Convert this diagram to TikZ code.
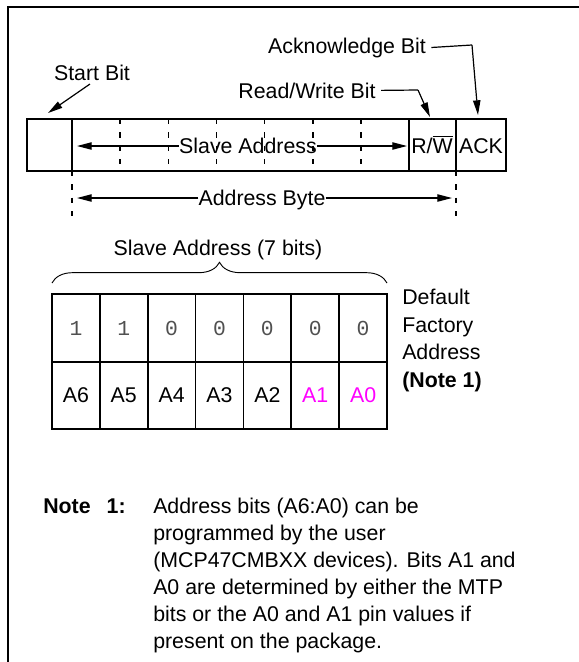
\documentclass[tikz,border=0pt]{standalone}
\usepackage{fontspec}
\setmainfont{Liberation Sans}
\newfontfamily\monof{Liberation Mono}
\usetikzlibrary{arrows.meta,decorations.pathreplacing}
\definecolor{mag}{RGB}{255,0,255}
\definecolor{digitgray}{RGB}{80,80,80}
\begin{document}
\begin{tikzpicture}[x=0.75pt,y=-0.75pt,
  txt/.style={inner sep=0pt,font=\fontsize{16}{19}\selectfont},
  boldtxt/.style={inner sep=0pt,font=\fontsize{16}{19}\selectfont\bfseries},
  digit/.style={inner sep=0pt,font=\fontsize{16}{19}\selectfont\monof,text=digitgray},
  boxline/.style={line width=1.1pt},
  tblline/.style={line width=1.3pt},
  dsh/.style={line width=1.1pt,dash pattern=on 4pt off 6pt},
  conn/.style={line width=0.9pt},
  arr/.style={line width=0.9pt,-{Triangle[length=11pt,width=5.5pt]}},
  frameline/.style={line width=1.4pt}]
\useasboundingbox (0,0) rectangle (579,662);
% frame
\draw[frameline] (8,662) -- (8,7) -- (579,7);
% register
\draw[boxline] (27,119) rectangle (506,171);
\draw[boxline] (72,119) -- (72,171);
\draw[boxline] (409,119) -- (409,171);
\draw[boxline] (456,119) -- (456,171);
\foreach \i in {1,...,6} \draw[dsh] ({72+\i*48.17},119) -- ({72+\i*48.17},171);
\coordinate (saL) at (77,146);
\coordinate (saR) at (407,146);
\node[txt,anchor=base] (sa) at (248,153) {Slave Address};
\draw[arr] (sa.west |- saL) -- (saL);
\draw[arr] (sa.east |- saR) -- (saR);
\node[txt,anchor=base] (rw) at (432,153) {R/$\overline{\hbox{W}}$};
\node[txt,anchor=base] (ack) at (481,153) {ACK};
% labels
\node[txt,anchor=base] (start) at (92,80) {Start Bit};
\coordinate (startT) at (48,113);
\draw[arr] (90,84) -- (startT);
\node[txt,anchor=base] (rwl) at (307,98) {Read/Write Bit};
\coordinate (rwK) at (418,90);
\coordinate (rwT) at (430,117);
\draw[conn] ([xshift=4pt]rwl.east) -- (rwK);
\draw[arr] (rwK) -- (rwT);
\node[txt,anchor=base] (ackl) at (347,53) {Acknowledge Bit};
\coordinate (ackK) at (472,45);
\coordinate (ackT) at (478,115);
\draw[conn] ([xshift=4pt]ackl.east) -- (ackK);
\draw[arr] (ackK) -- (ackT);
% address byte
\draw[dsh] (72,171) -- (72,222);
\draw[dsh] (456,171) -- (456,222);
\coordinate (abL) at (77,198);
\coordinate (abR) at (452,198);
\node[txt,anchor=base] (ab) at (262,205.5) {Address Byte};
\draw[arr] (ab.west |- abL) -- (abL);
\draw[arr] (ab.east |- abR) -- (abR);
% slave address 7 bits
\node[txt,anchor=base] (s7) at (218,255) {Slave Address (7 bits)};
\draw[line width=0.7pt,decorate,decoration={brace,amplitude=15.5pt}] (52,283) -- (387,283);
% table
\draw[tblline] (52,294) rectangle (387,429);
\draw[tblline] (52,362) -- (387,362);
\foreach \i in {1,...,6} \draw[tblline] ({52+\i*47.857},294) -- ({52+\i*47.857},429);
\foreach \v [count=\i from 0] in {1,1,0,0,0,0,0}
  \node[digit,anchor=base] (d\i) at ({52+(\i+0.5)*47.857},335) {\v};
\foreach \a [count=\i from 0] in {A6,A5,A4,A3,A2}
  \node[txt,anchor=base] (a\i) at ({52+(\i+0.5)*47.857},402) {\a};
\node[txt,anchor=base,text=mag] (a5) at ({52+5.5*47.857},402) {A1};
\node[txt,anchor=base,text=mag] (a6) at ({52+6.5*47.857},402) {A0};
% default factory address
\node[txt,anchor=base west] (df1) at (402,304) {Default};
\node[txt,anchor=base west] (df2) at (402,332) {Factory};
\node[txt,anchor=base west] (df3) at (402,359) {Address};
\node[boldtxt,anchor=base west] (df4) at (402,387) {(Note 1)};
% note
\node[boldtxt,anchor=base west] (note) at (43,513) {Note\hspace{12pt}1:};
\node[txt,anchor=base west] (n1) at (153,513) {Address bits (A6:A0) can be};
\node[txt,anchor=base west] (n2) at (153,540) {programmed by the user};
\node[txt,anchor=base west] (n3) at (153,567) {(MCP47CMBXX devices). Bits A1 and};
\node[txt,anchor=base west] (n4) at (153,594) {A0 are determined by either the MTP};
\node[txt,anchor=base west] (n5) at (153,621) {bits or the A0 and A1 pin values if};
\node[txt,anchor=base west] (n6) at (153,648) {present on the package.};
\end{tikzpicture}
\end{document}
